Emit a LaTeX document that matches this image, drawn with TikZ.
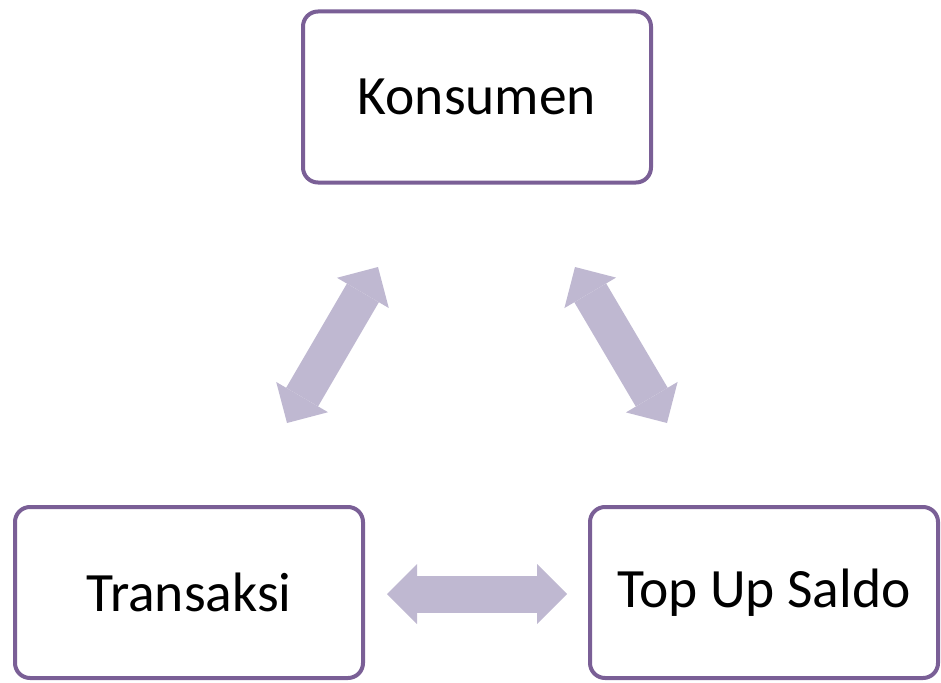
\documentclass[tikz,border=0pt]{standalone}
\usepackage{fontspec}
\setmainfont{Carlito}
\usetikzlibrary{arrows.meta}
\definecolor{boxline}{RGB}{122,95,150}
\definecolor{arrowfill}{RGB}{191,184,209}
\begin{document}
\begin{tikzpicture}[x=1pt,y=-1pt,
  box/.style={draw=boxline, line width=4pt, rounded corners=15pt, fill=white,
    minimum width=348pt, minimum height=171pt, inner sep=0pt,
    font=\fontsize{55.5}{60}\selectfont},
  blockarrow/.style={draw=arrowfill, line width=37pt,
    {Triangle[width=60pt,length=30pt,line width=0pt]}-{Triangle[width=60pt,length=30pt,line width=0pt]}}]
\useasboundingbox (0,0) rectangle (941,682);
\node[box] (konsumen) at (477,97) {Konsumen};
\node[box] (transaksi) at (189,592.5) {Transaksi};
\node[box] (topup) at (764,592.5) {Top Up Saldo};
\coordinate (l1) at (287,423);
\coordinate (l2) at (378,267);
\coordinate (r1) at (575,267);
\coordinate (r2) at (667,423);
\coordinate (h1) at (387,594);
\coordinate (h2) at (567,594);
\draw[blockarrow] (l1) -- (l2);
\draw[blockarrow] (r1) -- (r2);
\draw[blockarrow] (h1) -- (h2);
\end{tikzpicture}
\end{document}
